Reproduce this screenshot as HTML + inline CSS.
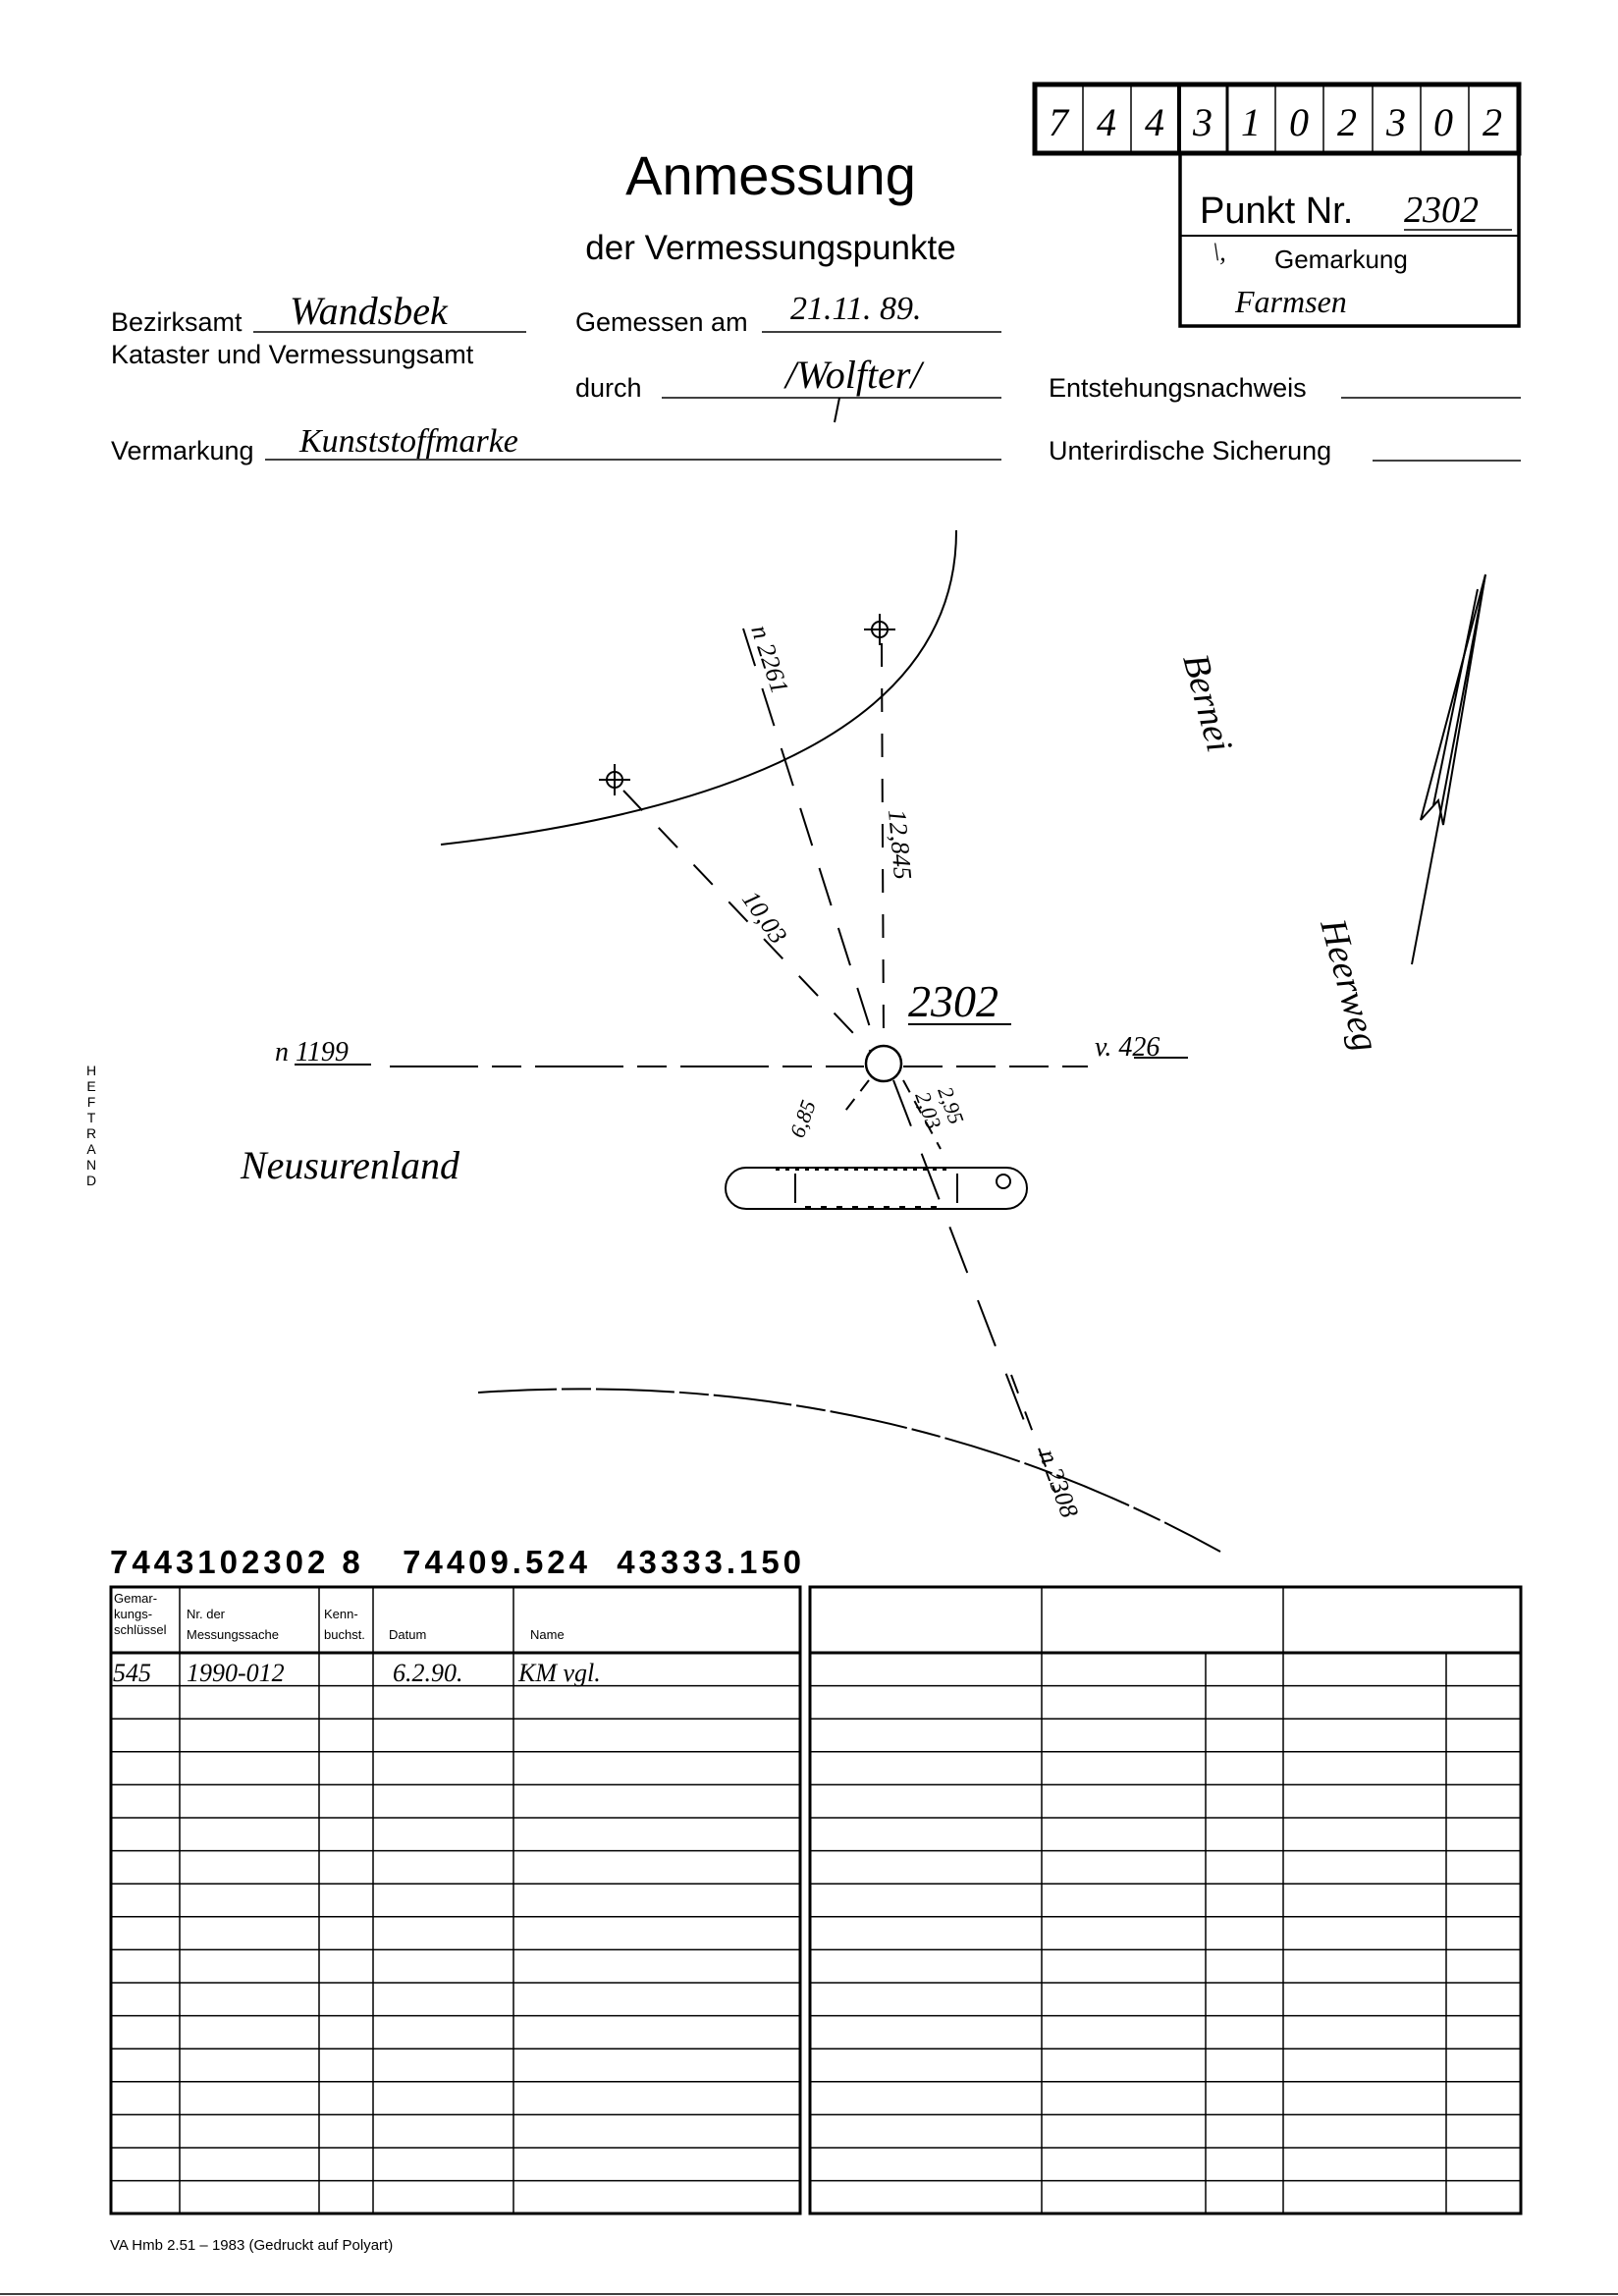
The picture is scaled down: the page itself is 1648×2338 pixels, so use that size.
<!DOCTYPE html>
<html><head><meta charset="utf-8"><style>
html,body{margin:0;padding:0;background:#fff}
svg{display:block}
text{font-family:"Liberation Sans",sans-serif;fill:#000}
.h{font-family:"Liberation Serif",serif;font-style:italic}
</style></head><body>
<svg width="1648" height="2338" viewBox="0 0 1648 2338" xmlns="http://www.w3.org/2000/svg">
<rect x="1054" y="86" width="493" height="70" fill="none" stroke="#000" stroke-width="5"/>
<g stroke="#000" stroke-width="1.5">
<line x1="1103" y1="88" x2="1103" y2="154"/><line x1="1152" y1="88" x2="1152" y2="154"/>
<line x1="1201" y1="88" x2="1201" y2="154" stroke-width="4"/><line x1="1250" y1="88" x2="1250" y2="154" stroke-width="3"/>
<line x1="1299" y1="88" x2="1299" y2="154"/><line x1="1348" y1="88" x2="1348" y2="154"/>
<line x1="1398" y1="88" x2="1398" y2="154"/><line x1="1447" y1="88" x2="1447" y2="154"/><line x1="1496" y1="88" x2="1496" y2="154"/>
</g>
<g text-anchor="middle">
<text x="1078" y="138" class="h" font-size="40">7</text><text x="1127" y="138" class="h" font-size="40">4</text><text x="1176" y="138" class="h" font-size="40">4</text><text x="1225" y="138" class="h" font-size="40">3</text>
<text x="1274" y="138" class="h" font-size="40">1</text><text x="1323" y="138" class="h" font-size="40">0</text><text x="1372" y="138" class="h" font-size="40">2</text><text x="1422" y="138" class="h" font-size="40">3</text><text x="1470" y="138" class="h" font-size="40">0</text><text x="1520" y="138" class="h" font-size="40">2</text>
</g>
<rect x="1202" y="156" width="345" height="176" fill="none" stroke="#000" stroke-width="3.5"/>
<line x1="1202" y1="240" x2="1547" y2="240" stroke="#000" stroke-width="2"/>
<text x="1222" y="227" font-size="38">Punkt Nr.</text>
<text x="1430" y="226" class="h" font-size="38">2302</text>
<line x1="1430" y1="234" x2="1540" y2="234" stroke="#000" stroke-width="1.5"/>
<text x="1298" y="273" font-size="26">Gemarkung</text>
<text x="1258" y="318" class="h" font-size="32">Farmsen</text>
<text x="1235" y="265" class="h" font-size="26">\,</text>
<text x="785" y="198" font-size="56" text-anchor="middle">Anmessung</text>
<text x="785" y="264" font-size="35" text-anchor="middle">der Vermessungspunkte</text>
<text x="113" y="337" font-size="27">Bezirksamt</text>
<line x1="258" y1="338" x2="536" y2="338" stroke="#000" stroke-width="1.5"/>
<text x="295" y="330" class="h" font-size="40">Wandsbek</text>
<text x="113" y="370" font-size="27">Kataster und Vermessungsamt</text>
<text x="586" y="337" font-size="27">Gemessen am</text>
<line x1="776" y1="338" x2="1020" y2="338" stroke="#000" stroke-width="1.5"/>
<text x="805" y="325" class="h" font-size="34">21.11. 89.</text>
<text x="586" y="404" font-size="27">durch</text>
<line x1="674" y1="405" x2="1020" y2="405" stroke="#000" stroke-width="1.5"/>
<text x="800" y="395" class="h" font-size="40">/Wolfter/</text>
<line x1="855" y1="405" x2="850" y2="430" stroke="#000" stroke-width="2"/>
<text x="1068" y="404" font-size="27">Entstehungsnachweis</text>
<line x1="1366" y1="405" x2="1549" y2="405" stroke="#000" stroke-width="1.5"/>
<text x="113" y="468" font-size="27">Vermarkung</text>
<line x1="270" y1="468" x2="1020" y2="468" stroke="#000" stroke-width="1.5"/>
<text x="305" y="460" class="h" font-size="34">Kunststoffmarke</text>
<text x="1068" y="468" font-size="27">Unterirdische Sicherung</text>
<line x1="1398" y1="469" x2="1549" y2="469" stroke="#000" stroke-width="1.5"/>
<g fill="none" stroke="#000" stroke-width="2">
<path d="M974 540 Q975 800 449 860"/>
<path d="M487 1418 Q900 1390 1243 1580" stroke-dasharray="80 5 30 5"/>
<line x1="898" y1="655" x2="900" y2="1062" stroke-dasharray="24 22"/>
<line x1="635" y1="805" x2="886" y2="1070" stroke-dasharray="28 24"/>
<line x1="757" y1="640" x2="892" y2="1065" stroke-dasharray="40 24"/>
<line x1="397" y1="1086" x2="880" y2="1086" stroke-dasharray="90 14 30 14"/>
<line x1="920" y1="1086" x2="1108" y2="1086" stroke-dasharray="40 14"/>
<line x1="910" y1="1100" x2="1052" y2="1470" stroke-dasharray="50 30"/>
<line x1="1030" y1="1400" x2="1075" y2="1520" stroke-dasharray="20 20"/>
<line x1="885" y1="1100" x2="858" y2="1135" stroke-dasharray="14 10"/>
<line x1="920" y1="1100" x2="958" y2="1170" stroke-dasharray="14 10"/>
<circle cx="900" cy="1083" r="18" stroke-width="2.5"/>
<rect x="739" y="1189" width="307" height="42" rx="21"/>
<line x1="790" y1="1191" x2="970" y2="1191" stroke-dasharray="4 6"/>
<line x1="820" y1="1229" x2="960" y2="1229" stroke-dasharray="6 10"/>
<line x1="810" y1="1195" x2="810" y2="1225"/><line x1="975" y1="1195" x2="975" y2="1225"/>
<circle cx="1022" cy="1203" r="7"/>
<circle cx="896" cy="641" r="8"/><line x1="880" y1="641" x2="912" y2="641"/><line x1="896" y1="625" x2="896" y2="657"/>
<circle cx="626" cy="794" r="8"/><line x1="610" y1="794" x2="642" y2="794"/><line x1="626" y1="778" x2="626" y2="810"/>
<line x1="1438" y1="982" x2="1513" y2="585"/>
<path d="M1513 585 L1447 835 L1465 815 L1470 840 Z"/>
<path d="M1505 600 L1460 820"/>
<line x1="925" y1="1043" x2="1030" y2="1043"/>
<line x1="300" y1="1084" x2="378" y2="1084"/>
<line x1="1155" y1="1077" x2="1210" y2="1077"/>
</g>
<text x="925" y="1035" font-size="46" class="h">2302</text>
<text x="280" y="1080" class="h" font-size="28">n 1199</text>
<text x="1115" y="1075" class="h" font-size="28">v. 426</text>
<text x="245" y="1200" class="h" font-size="40">Neusurenland</text>
<text transform="translate(1205,670) rotate(75)" class="h" font-size="38">Bernei</text>
<text transform="translate(1345,940) rotate(75)" class="h" font-size="38">Heerweg</text>
<text transform="translate(905,825) rotate(85)" class="h" font-size="26">12,845</text>
<text transform="translate(755,915) rotate(55)" class="h" font-size="26">10,03</text>
<text transform="translate(765,640) rotate(72)" class="h" font-size="26">n 2261</text>
<text transform="translate(1058,1480) rotate(70)" class="h" font-size="26">n 2308</text>
<text transform="translate(818,1160) rotate(-70)" class="h" font-size="22">6,85</text>
<text transform="translate(932,1115) rotate(70)" class="h" font-size="22">2,03</text>
<text transform="translate(955,1110) rotate(70)" class="h" font-size="22">2,95</text>
<g font-size="14" text-anchor="middle">
<text x="93" y="1095">H</text><text x="93" y="1111">E</text><text x="93" y="1127">F</text><text x="93" y="1143">T</text><text x="93" y="1159">R</text><text x="93" y="1175">A</text><text x="93" y="1191">N</text><text x="93" y="1207">D</text>
</g>
<text x="112" y="1602" font-size="33" font-weight="bold" textLength="704" lengthAdjust="spacing" xml:space="preserve">7443102302 8   74409.524  43333.150</text>
<g fill="none" stroke="#000">
<rect x="113" y="1616" width="702" height="638" stroke-width="3"/>
<rect x="825" y="1616" width="724" height="638" stroke-width="3"/>
<line x1="113" y1="1683" x2="815" y2="1683" stroke-width="3"/>
<line x1="825" y1="1683" x2="1549" y2="1683" stroke-width="3"/>
<g stroke-width="1.5">
<line x1="183" y1="1616" x2="183" y2="2254"/><line x1="325" y1="1616" x2="325" y2="2254"/><line x1="380" y1="1616" x2="380" y2="2254"/><line x1="523" y1="1616" x2="523" y2="2254"/>
<line x1="1061" y1="1616" x2="1061" y2="2254"/><line x1="1307" y1="1616" x2="1307" y2="2254"/>
<line x1="1228" y1="1683" x2="1228" y2="2254"/><line x1="1473" y1="1683" x2="1473" y2="2254"/>
<path d="M113 1716.6H815M113 1750.2H815M113 1783.8H815M113 1817.4H815M113 1851H815M113 1884.6H815M113 1918.2H815M113 1951.8H815M113 1985.4H815M113 2019H815M113 2052.6H815M113 2086.2H815M113 2119.8H815M113 2153.4H815M113 2187H815M113 2220.6H815"/>
<path d="M825 1716.6H1549M825 1750.2H1549M825 1783.8H1549M825 1817.4H1549M825 1851H1549M825 1884.6H1549M825 1918.2H1549M825 1951.8H1549M825 1985.4H1549M825 2019H1549M825 2052.6H1549M825 2086.2H1549M825 2119.8H1549M825 2153.4H1549M825 2187H1549M825 2220.6H1549"/>
</g>
</g>
<g font-size="13">
<text x="116" y="1632">Gemar-</text><text x="116" y="1648">kungs-</text><text x="116" y="1664">schlüssel</text>
<text x="190" y="1648">Nr. der</text><text x="190" y="1669">Messungssache</text>
<text x="330" y="1648">Kenn-</text><text x="330" y="1669">buchst.</text>
<text x="396" y="1669">Datum</text><text x="540" y="1669">Name</text>
</g>
<text x="115" y="1712" class="h" font-size="26">545</text><text x="190" y="1712" class="h" font-size="26">1990-012</text>
<text x="400" y="1712" class="h" font-size="26">6.2.90.</text><text x="528" y="1712" class="h" font-size="26">KM vgl.</text>
<text x="112" y="2291" font-size="15">VA Hmb 2.51 – 1983 (Gedruckt auf Polyart)</text>
<line x1="0" y1="2336" x2="1648" y2="2336" stroke="#000" stroke-width="1.5"/>
</svg>
</body></html>
